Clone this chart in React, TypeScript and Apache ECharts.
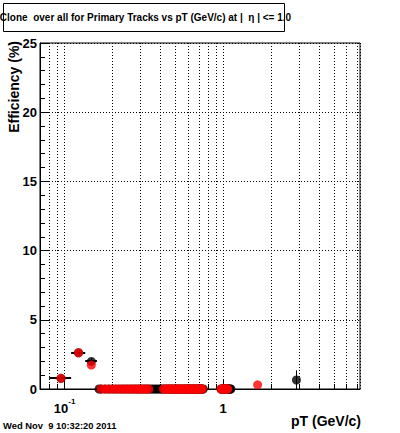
import React, { useEffect, useRef } from 'react';
import * as echarts from 'echarts';

const titleText = 'Clone  over all for Primary Tracks vs pT (GeV/c) at |  η | <= 1.0';
const yAxisTitle = 'Efficiency (%)';
const xAxisTitle = 'pT (GeV/c)';
const dateText = 'Wed Nov  9 10:32:20 2011';

const xMin = 0.07;
const xMax = 7.3;
const yMin = 0;
const yMax = 25;
const yStep = 5;

const minorGridX = [0.08, 0.09, 0.2, 0.3, 0.4, 0.5, 0.6, 0.7, 0.8, 0.9, 2, 3, 4, 5, 6, 7];

// Black series: points with non-zero efficiency (pT, eff, half bin width, error)
const blackPt = [0.095, 0.1225, 0.1475, 2.9];
const blackEff = [0.77, 2.62, 1.99, 0.65];
const blackXErr = [0.015, 0.0125, 0.0125, 0];
const blackYErr = [0.15, 0.25, 0.25, 0.7];
// Black series: bins measured at 0 %
const blackZeroPt = [
  0.165, 0.17, 0.18, 0.19, 0.2, 0.21, 0.22, 0.23, 0.24, 0.25, 0.26, 0.27, 0.28, 0.29,
  0.3, 0.31, 0.32, 0.33, 0.34, 0.35, 0.36, 0.37, 0.38, 0.39, 0.4, 0.41,
  0.42, 0.43, 0.44, 0.45, 0.46, 0.47, 0.48, 0.49, 0.5, 0.51, 0.52, 0.53, 0.54, 0.55,
  0.56, 0.57, 0.58, 0.59, 0.6, 0.61, 0.62, 0.63, 0.64, 0.65, 0.66, 0.67, 0.68, 0.69,
  0.7, 0.71, 0.72, 0.73, 0.74, 0.75,
  0.97, 0.98, 0.99, 1.0, 1.01, 1.02, 1.03, 1.04, 1.05, 1.06, 1.07, 1.08, 1.09, 1.1, 1.11, 1.12,
];

// Red series
const redPt = [0.095, 0.1225, 0.1475, 1.65];
const redEff = [0.77, 2.62, 1.73, 0.3];
const redZeroPt = [
  0.17, 0.18, 0.19, 0.2, 0.21, 0.22, 0.23, 0.24, 0.25, 0.26, 0.27, 0.28, 0.29,
  0.3, 0.31, 0.32, 0.33, 0.34,
  0.42, 0.43, 0.44, 0.45, 0.46, 0.47, 0.48, 0.49, 0.5, 0.51, 0.52, 0.53, 0.54, 0.55,
  0.56, 0.57, 0.58, 0.59, 0.6, 0.61, 0.62, 0.63, 0.64, 0.65, 0.66, 0.67, 0.68, 0.69,
  0.7, 0.71, 0.72, 0.73, 0.74,
  0.97, 0.98, 0.99, 1.0, 1.01, 1.02, 1.03, 1.04, 1.05, 1.06, 1.07,
];

const FONT = '"Liberation Sans", Arial, Helvetica, sans-serif';

export default function App() {
  const ref = useRef<HTMLDivElement>(null);
  useEffect(() => {
    if (!ref.current) return;
    const chart = echarts.init(ref.current, undefined, { renderer: 'svg' });

    const blackData = [
      ...blackZeroPt.map((x) => [x, 0]),
      ...blackPt.map((x, i) => [x, blackEff[i]]),
    ];
    const blackErrData = blackPt.map((x, i) => [x, blackEff[i], blackXErr[i], blackYErr[i]]);
    const redData = [
      ...redZeroPt.map((x) => [x, 0]),
      ...redPt.map((x, i) => [x, redEff[i]]),
    ];
    const gridData = minorGridX.map((x) => [x, yMin]);

    const crisp = (v: number) => Math.round(v) + 0.5;

    chart.setOption({
      animation: false,
      backgroundColor: '#fff',
      grid: {
        left: 40,
        right: 40,
        top: 43,
        bottom: 44,
        show: true,
        borderColor: '#000',
        borderWidth: 1,
        backgroundColor: 'transparent',
        outerBoundsMode: 'none',
      },
      xAxis: {
        type: 'log',
        logBase: 10,
        min: xMin,
        max: xMax,
        axisLine: { show: true, lineStyle: { color: '#000', width: 1 } },
        axisTick: { show: true, inside: true, length: 10, lineStyle: { color: '#000' } },
        splitLine: { show: true, lineStyle: { color: '#000', type: [1, 2], width: 1 } },
        axisLabel: {
          margin: 8,
          showMinLabel: false,
          showMaxLabel: false,
          formatter: (v: number) => {
            const e = Math.round(Math.log10(v));
            return e === 0 ? '{b|1}' : '{b|10}{s|' + e + '}';
          },
          rich: {
            b: { fontSize: 13, fontWeight: 'bold', fontFamily: FONT, color: '#000', padding: [5, 0, 0, 0] },
            s: { fontSize: 8, fontWeight: 'bold', fontFamily: FONT, color: '#000', verticalAlign: 'top' },
          },
        },
      },
      yAxis: {
        type: 'value',
        min: yMin,
        max: yMax,
        interval: yStep,
        axisLine: { show: true, lineStyle: { color: '#000', width: 1 } },
        axisTick: { show: true, inside: true, length: 10, lineStyle: { color: '#000' } },
        minorTick: { show: true, splitNumber: 5, length: 5, lineStyle: { color: '#000' } },
        splitLine: { show: true, lineStyle: { color: '#000', type: [1, 2], width: 1 } },
        axisLabel: { margin: 3, fontSize: 13, fontWeight: 'bold', fontFamily: FONT, color: '#000' },
      },
      series: [
        {
          type: 'custom',
          z: 1,
          silent: true,
          data: gridData,
          renderItem: (params: any, api: any) => {
            const x = api.value(0);
            const top = api.coord([x, yMax]);
            const bot = api.coord([x, yMin]);
            const px = crisp(bot[0]);
            return {
              type: 'group',
              children: [
                { type: 'line', shape: { x1: px, y1: bot[1], x2: px, y2: top[1] }, style: { stroke: '#000', lineWidth: 1, lineDash: [1, 2] } },
                { type: 'line', shape: { x1: px, y1: bot[1], x2: px, y2: bot[1] - 5 }, style: { stroke: '#000', lineWidth: 1 } },
              ],
            };
          },
        },
        {
          type: 'custom',
          z: 3,
          silent: true,
          data: blackErrData,
          renderItem: (params: any, api: any) => {
            const x = api.value(0);
            const y = api.value(1);
            const ex = api.value(2);
            const ey = api.value(3);
            const c = api.coord([x, y]);
            const children: any[] = [];
            if (ex > 0) {
              const l = api.coord([x - ex, y]);
              const r = api.coord([x + ex, y]);
              children.push({ type: 'line', shape: { x1: l[0], y1: Math.round(c[1]), x2: r[0], y2: Math.round(c[1]) }, style: { stroke: '#000', lineWidth: 2 } });
            }
            if (ey > 0) {
              const t = api.coord([x, Math.min(yMax, y + ey)]);
              const b = api.coord([x, Math.max(yMin, y - ey)]);
              children.push({ type: 'line', shape: { x1: crisp(c[0]), y1: t[1], x2: crisp(c[0]), y2: b[1] }, style: { stroke: '#000', lineWidth: 1 } });
            }
            return { type: 'group', children };
          },
        },
        {
          type: 'scatter',
          z: 4,
          silent: true,
          symbol: 'circle',
          symbolSize: 9,
          itemStyle: { color: '#000' },
          data: blackData,
        },
        {
          type: 'scatter',
          z: 5,
          silent: true,
          symbol: 'circle',
          symbolSize: 9,
          itemStyle: { color: '#ff0000' },
          data: redData,
        },
      ],
      graphic: [
        {
          type: 'rect',
          shape: { x: 3.5, y: 3.5, width: 281, height: 28 },
          style: { fill: '#fff', stroke: '#000', lineWidth: 1 },
          z: 10,
        },
        {
          type: 'text',
          x: 145.5,
          y: 17,
          z: 11,
          style: { text: titleText, fontSize: 10, fontWeight: 'bold', fontFamily: FONT, fill: '#000', align: 'center', verticalAlign: 'middle' },
        },
        {
          type: 'text',
          x: 14,
          y: 41,
          rotation: Math.PI / 2,
          z: 11,
          style: { text: yAxisTitle, fontSize: 14, fontWeight: 'bold', fontFamily: FONT, fill: '#000', align: 'right', verticalAlign: 'middle' },
        },
        {
          type: 'text',
          x: 361,
          y: 421,
          z: 11,
          style: { text: xAxisTitle, fontSize: 14, fontWeight: 'bold', fontFamily: FONT, fill: '#000', align: 'right', verticalAlign: 'middle' },
        },
        {
          type: 'text',
          x: 3,
          y: 425,
          z: 11,
          style: { text: dateText, fontSize: 9.4, fontWeight: 'bold', fontFamily: FONT, fill: '#000', align: 'left', verticalAlign: 'middle' },
        },
      ],
    });
    return () => chart.dispose();
  }, []);
  return <div ref={ref} style={{ position: 'absolute', left: 0, top: 0, width: 400, height: 433 }} />;
}
